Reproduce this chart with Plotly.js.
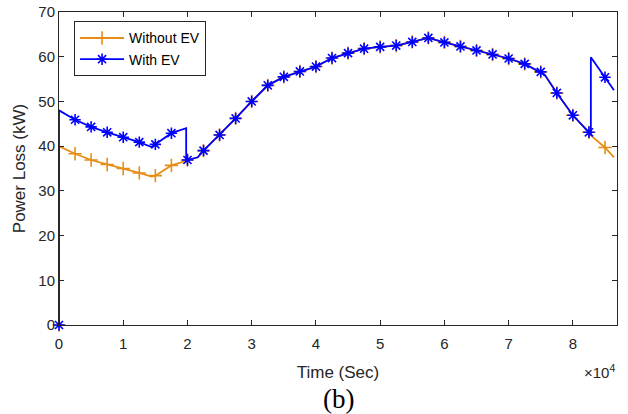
<!DOCTYPE html>
<html>
<head>
<meta charset="utf-8">
<script src="https://cdn.plot.ly/plotly-3.0.1.min.js"></script>
<style>html,body{margin:0;padding:0;background:#fff;}#chart{width:628px;height:414px;}</style>
</head>
<body>
<div id="chart"></div>
<script>
// Time in seconds
var timeSec = [0, 1, 2500, 5000, 7500, 10000, 12500, 14400, 15000, 17500, 19800, 19801, 20000, 21600, 22500,
  25000, 27500, 30000, 32500, 35000, 37500, 40000, 42500, 45000, 47500, 50000, 52500, 55000, 57500,
  60000, 62500, 65000, 67500, 70000, 72500, 75000, 75600, 77500, 80000, 82500, 82800, 82801, 85000, 86400];

// Power loss (kW) without EV
var withoutEV = [0, 40.0, 38.3, 36.9, 35.9, 35.0, 34.0, 33.2, 33.4, 35.7, 36.8, 36.8, 36.9, 37.5, 39.0,
  42.5, 46.2, 50.0, 53.6, 55.5, 56.7, 57.8, 59.7, 60.8, 61.8, 62.2, 62.5, 63.3, 64.2,
  63.2, 62.3, 61.4, 60.5, 59.6, 58.4, 56.6, 56.0, 51.9, 46.9, 43.1, 42.5, 42.4, 39.7, 37.5];

// Power loss (kW) with EV
var withEV = [0, 48.0, 45.9, 44.3, 43.1, 42.0, 40.9, 39.8, 40.4, 42.9, 44.0, 36.8, 36.9, 37.5, 39.0,
  42.5, 46.2, 50.0, 53.6, 55.5, 56.7, 57.8, 59.7, 60.8, 61.8, 62.2, 62.5, 63.3, 64.2,
  63.2, 62.3, 61.4, 60.5, 59.6, 58.4, 56.6, 56.0, 51.9, 46.9, 43.1, 42.5, 59.9, 55.4, 52.5];

var seriesNames = ['Without EV', 'With EV'];
var xTickVals = [0, 10000, 20000, 30000, 40000, 50000, 60000, 70000, 80000];
var xTickText = ['0', '1', '2', '3', '4', '5', '6', '7', '8'];
var yTickVals = [0, 10, 20, 30, 40, 50, 60, 70];

var markerStep = 2500;
function markPts(vals) {
  var mx = [], my = [];
  for (var i = 0; i < timeSec.length; i++) {
    if (timeSec[i] % markerStep === 0) { mx.push(timeSec[i]); my.push(vals[i]); }
  }
  return {x: mx, y: my};
}

var orange = '#E68E14', blue = '#0000FF';
var fontFam = 'Liberation Sans, Arial, Helvetica, sans-serif';
var txtCol = '#262626';

function series(vals, name, color, symbol) {
  var m = markPts(vals);
  return [
    {x: timeSec, y: vals, mode: 'lines', line: {color: color, width: 1.8}, showlegend: false, hoverinfo: 'skip'},
    {x: m.x, y: m.y, mode: 'markers', showlegend: false, cliponaxis: false,
     marker: {symbol: symbol, size: 9.5, color: color, line: {color: color, width: 1.6}}},
    {x: [null], y: [null], mode: 'lines+markers', name: name, showlegend: true,
     line: {color: color, width: 1.8},
     marker: {symbol: symbol, size: 9.5, color: color, line: {color: color, width: 1.6}}}
  ];
}

var data = [].concat(
  series(withoutEV, seriesNames[0], orange, 'cross-thin-open'),
  series(withEV, seriesNames[1], blue, 'asterisk-open')
);

var layout = {
  width: 628, height: 414,
  margin: {l: 59, r: 11, t: 12, b: 89},
  paper_bgcolor: '#fff', plot_bgcolor: '#fff',
  font: {family: fontFam, color: txtCol},
  showlegend: true,
  legend: {x: 0.027, y: 0.97, xanchor: 'left', yanchor: 'top',
    bgcolor: '#fff', bordercolor: txtCol, borderwidth: 1, itemwidth: 44,
    font: {family: fontFam, size: 14, color: '#000'}, tracegroupgap: 0},
  xaxis: {
    range: [0, 86870], tickvals: xTickVals, ticktext: xTickText,
    ticks: 'inside', ticklen: 5, tickwidth: 1, tickcolor: txtCol,
    showline: true, linecolor: txtCol, linewidth: 1, mirror: 'ticks',
    showgrid: false, zeroline: false, ticklabelstandoff: 5,
    tickfont: {family: fontFam, size: 15, color: txtCol},
    title: {text: 'Time (Sec)', font: {family: fontFam, size: 17, color: txtCol}, standoff: 15}
  },
  yaxis: {
    range: [0, 70], tickvals: yTickVals,
    ticks: 'inside', ticklen: 5, tickwidth: 1, tickcolor: txtCol,
    showline: true, linecolor: txtCol, linewidth: 1, mirror: 'ticks',
    showgrid: false, zeroline: false,
    tickfont: {family: fontFam, size: 15, color: txtCol},
    title: {text: 'Power Loss (kW)', font: {family: fontFam, size: 17, color: txtCol}, standoff: 8}
  },
  annotations: [
    {text: '\u00D710<sup>4</sup>', xref: 'paper', yref: 'paper', x: 1.0, y: -0.15,
     xanchor: 'right', yanchor: 'middle', showarrow: false,
     font: {family: fontFam, size: 15, color: txtCol}},
    {text: '(b)', xref: 'paper', yref: 'paper', x: 0.5, y: -0.237,
     xanchor: 'center', yanchor: 'middle', showarrow: false,
     font: {family: 'Liberation Serif, Times New Roman, serif', size: 27, color: '#000'}}
  ]
};

Plotly.newPlot('chart', data, layout, {displayModeBar: false, staticPlot: true});
</script>
</body>
</html>
